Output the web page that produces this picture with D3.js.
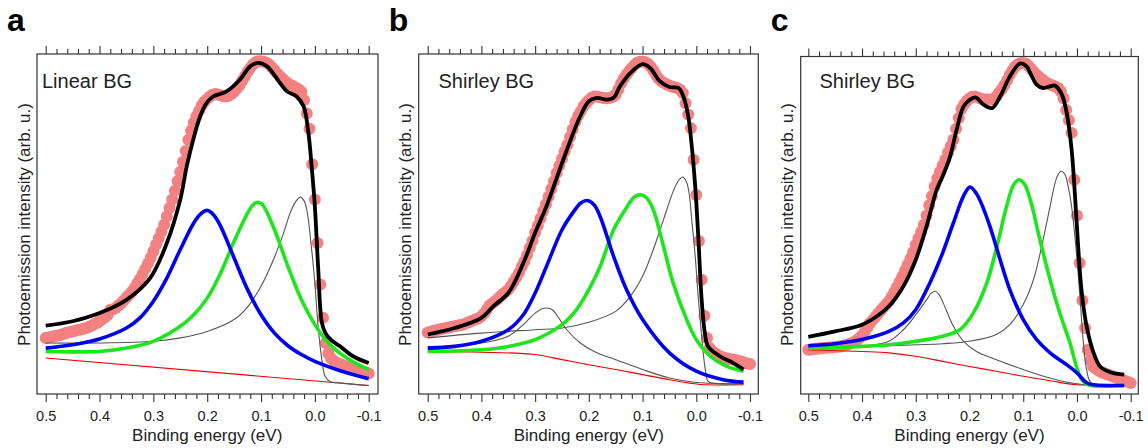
<!DOCTYPE html>
<html lang="en">
<head>
<meta charset="UTF-8">
<title>Photoemission fits</title>
<script src="https://d3js.org/d3.v7.min.js"></script>
<style>
  body { margin: 0; background: #ffffff; }
  svg { display: block; font-family: "Liberation Sans", Arial, Helvetica, sans-serif; }
</style>
</head>
<body>
<svg id="chart" width="1148" height="448"></svg>
<script>
// binding energies of the measured points (eV)
const energyGrid = [
  0.500,0.495,0.490,0.485,0.480,0.475,0.470,0.465,0.460,0.455,
  0.450,0.445,0.440,0.435,0.430,0.425,0.420,0.415,0.410,0.405,
  0.400,0.395,0.390,0.385,0.380,0.375,0.370,0.365,0.360,0.355,
  0.350,0.345,0.340,0.335,0.330,0.325,0.320,0.315,0.310,0.305,
  0.300,0.295,0.290,0.285,0.280,0.275,0.270,0.265,0.260,0.255,
  0.250,0.245,0.240,0.235,0.230,0.225,0.220,0.215,0.210,0.205,
  0.200,0.195,0.190,0.185,0.180,0.175,0.170,0.165,0.160,0.155,
  0.150,0.145,0.140,0.135,0.130,0.125,0.120,0.115,0.110,0.105,
  0.100,0.095,0.090,0.085,0.080,0.075,0.070,0.065,0.060,0.055,
  0.050,0.045,0.040,0.035,0.030,0.025,0.020,0.015,0.010,0.005,
  0.000,-0.005,-0.010,-0.015,-0.020,-0.025,-0.030,-0.035,-0.040,-0.045,
  -0.050,-0.055,-0.060,-0.065,-0.070,-0.075,-0.080,-0.085,-0.090,-0.095,
  -0.100
];

// measured intensity (arb. u.)
const aData = [
  16.5,16.6,16.8,17.0,17.1,17.3,17.5,17.8,18.0,18.2,
  18.4,18.6,18.8,19.0,19.2,19.4,19.7,20.1,20.5,20.9,
  21.4,22.0,22.6,23.2,24.8,24.9,25.3,26.0,26.7,27.5,
  28.4,29.2,30.1,31.2,32.5,33.8,35.3,36.8,38.4,40.1,
  42.0,43.9,45.8,47.7,49.8,52.2,54.7,57.2,59.8,62.6,
  65.4,68.3,71.5,74.8,77.4,79.8,81.7,83.3,84.9,86.0,
  86.8,87.5,88.0,88.2,88.1,87.9,87.6,87.5,87.7,88.2,
  88.9,89.8,90.8,92.1,93.4,94.8,95.9,96.9,97.6,97.9,
  97.9,97.7,97.4,96.9,96.1,95.2,94.3,93.5,92.7,92.0,
  91.4,90.9,90.5,90.1,89.6,88.9,86.5,82.5,78.0,67.6,
  57.2,44.4,32.2,22.4,15.0,12.0,10.5,9.8,9.3,8.9,
  8.6,8.3,8.0,7.7,7.4,7.2,6.9,6.7,6.5,6.3,
  6.0
];
const bData = [
  18.1,18.3,18.5,18.7,18.9,19.1,19.3,19.4,19.6,19.8,
  19.9,20.1,20.3,20.4,20.7,21.0,21.3,21.7,22.0,22.3,
  22.9,23.7,24.8,26.0,26.6,27.2,27.9,28.7,29.4,30.0,
  30.7,31.8,33.0,34.3,35.7,37.4,39.0,40.9,43.0,45.1,
  47.4,49.5,51.7,53.8,55.8,58.0,60.3,62.6,65.0,67.1,
  69.2,71.3,73.3,75.6,77.9,80.1,81.8,83.2,84.6,85.6,
  86.4,87.1,87.5,87.5,87.3,87.1,87.0,87.0,87.1,87.4,
  88.1,89.6,91.4,92.8,93.9,95.0,95.9,96.8,97.4,97.7,
  97.8,97.6,97.1,96.3,95.2,93.8,92.7,92.0,91.5,91.0,
  90.7,90.4,90.2,89.9,89.5,88.5,85.5,82.2,78.2,68.9,
  58.5,45.0,33.6,23.0,16.5,13.5,12.5,12.0,11.5,11.0,
  10.7,10.5,10.3,10.2,10.1,9.9,9.7,9.5,9.2,9.0,
  8.8
];
const cData = [
  13.0,13.1,13.2,13.3,13.4,13.5,13.6,13.6,13.7,13.7,
  13.8,13.9,14.0,14.2,14.4,14.6,14.9,15.3,15.8,16.5,
  17.2,18.3,19.6,20.9,21.8,22.7,23.7,24.6,25.5,26.4,
  27.3,28.6,30.0,31.5,33.0,34.6,36.3,38.0,39.8,41.8,
  43.9,45.8,47.7,49.8,52.5,55.5,58.2,61.0,63.4,65.4,
  67.2,69.0,71.0,72.9,74.8,78.0,81.2,83.8,85.2,86.2,
  86.9,87.4,87.5,87.2,86.9,86.7,86.6,86.6,86.6,86.8,
  87.5,88.6,89.6,90.9,92.3,93.9,95.2,96.3,97.0,97.3,
  97.3,97.1,96.5,95.6,94.7,93.9,93.2,92.5,91.9,91.4,
  91.0,90.7,90.4,90.0,89.0,87.0,83.5,80.5,76.8,63.0,
  52.5,38.5,27.5,19.4,13.0,10.0,8.1,7.4,6.9,6.5,
  6.2,5.9,5.6,5.3,5.0,4.7,4.4,4.1,3.8,3.5,
  3.2
];

// fitted curves [energy, intensity]
const aBlack = [[0.5,20.1],[0.45,21.4],[0.4,23.8],[0.35,27.7],[0.306,34.1],[0.275,44.4],[0.25,57.2],[0.238,67.0],[0.226,74.8],[0.213,81.7],[0.201,85.6],[0.189,87.5],[0.164,89.0],[0.139,92.5],[0.12,96.4],[0.105,97.4],[0.089,96.4],[0.065,91.5],[0.052,89.0],[0.034,87.5],[0.021,84.6],[0.012,76.8],[0.006,67.0],[0.0,55.2],[-0.006,37.5],[-0.013,21.0],[-0.02,17.8],[-0.03,15.9],[-0.047,14.0],[-0.071,11.1],[-0.1,9.1]];
const aBlue = [[0.5,13.5],[0.45,14.5],[0.4,16.2],[0.35,19.4],[0.325,22.4],[0.3,27.3],[0.275,34.1],[0.25,42.5],[0.225,50.3],[0.2125,52.9],[0.2,54.0],[0.1875,52.6],[0.175,49.3],[0.15,40.0],[0.125,30.7],[0.1,23.3],[0.075,17.9],[0.05,14.2],[0.025,11.6],[0.0,9.6],[-0.05,6.7],[-0.1,4.5]];
const aGreen = [[0.5,12.5],[0.45,12.4],[0.4,12.5],[0.35,13.5],[0.3,15.5],[0.25,19.9],[0.225,23.3],[0.2,28.2],[0.175,35.6],[0.15,44.9],[0.125,53.2],[0.115,55.6],[0.107,56.4],[0.098,55.8],[0.075,48.3],[0.05,37.5],[0.025,27.7],[0.0,20.4],[-0.025,15.0],[-0.05,11.6],[-0.075,9.1],[-0.1,7.2]];
const aGray = [[0.5,15.0],[0.4,15.0],[0.3,15.5],[0.25,16.5],[0.2,18.4],[0.15,21.9],[0.124,25.8],[0.1,31.7],[0.077,39.5],[0.058,47.4],[0.046,53.2],[0.036,56.5],[0.027,57.9],[0.02,56.8],[0.015,54.2],[0.006,42.5],[0.0,32.6],[-0.006,19.9],[-0.013,10.1],[-0.019,5.2],[-0.028,3.7],[-0.05,3.2],[-0.1,2.5]];
const aRed = [[0.5,10.6],[-0.1,2.5]];

const bBlack = [[0.5,17.5],[0.45,19.4],[0.4,22.4],[0.378,25.8],[0.35,29.7],[0.322,38.5],[0.3,47.4],[0.279,55.2],[0.25,67.9],[0.229,76.8],[0.216,81.7],[0.2,86.1],[0.185,87.1],[0.167,86.6],[0.154,87.1],[0.142,90.5],[0.123,94.4],[0.1,97.0],[0.086,95.9],[0.068,92.0],[0.05,90.3],[0.033,90.0],[0.024,87.5],[0.015,81.7],[0.009,73.8],[0.002,61.1],[-0.004,45.4],[-0.01,27.7],[-0.016,17.9],[-0.022,14.0],[-0.044,11.1],[-0.069,9.1],[-0.088,7.2]];
const bBlue = [[0.5,13.5],[0.45,14.0],[0.4,15.5],[0.35,18.9],[0.322,23.3],[0.3,29.7],[0.279,37.5],[0.25,48.3],[0.229,53.5],[0.215,56.2],[0.203,56.9],[0.19,55.6],[0.179,52.2],[0.154,40.5],[0.13,30.7],[0.1,21.9],[0.05,12.1],[0.0,6.7],[-0.05,4.2],[-0.088,3.5]];
const bGreen = [[0.5,12.5],[0.4,13.0],[0.35,14.0],[0.3,16.0],[0.25,20.4],[0.223,24.8],[0.2,30.7],[0.179,37.5],[0.154,48.3],[0.13,54.8],[0.115,58.0],[0.104,58.6],[0.093,57.8],[0.08,54.2],[0.061,43.4],[0.043,32.6],[0.018,21.9],[0.0,16.0],[-0.026,11.1],[-0.057,8.1],[-0.088,6.7]];
const bGray1 = [[0.5,16.5],[0.4,17.9],[0.3,18.9],[0.25,19.4],[0.2,21.1],[0.15,24.3],[0.123,28.7],[0.1,34.6],[0.08,42.5],[0.061,51.3],[0.043,59.6],[0.033,62.8],[0.025,63.8],[0.018,62.3],[0.013,58.6],[0.009,52.3],[0.002,40.5],[-0.004,27.7],[-0.01,17.0],[-0.016,8.1],[-0.022,3.7],[-0.03,3.2],[-0.088,3.0]];
const bGray2 = [[0.5,13.8],[0.4,15.0],[0.35,17.0],[0.322,20.4],[0.3,23.8],[0.288,25.0],[0.278,25.3],[0.268,24.8],[0.26,23.3],[0.241,18.9],[0.216,15.0],[0.185,12.1],[0.15,10.1],[0.1,7.2],[0.05,4.7],[0.0,3.4],[-0.088,3.0]];
const bRed = [[0.5,12.5],[0.4,12.3],[0.3,11.6],[0.25,10.1],[0.2,8.6],[0.15,7.2],[0.1,5.7],[0.05,4.2],[0.012,3.2],[-0.007,2.8],[-0.088,2.7]];

const cBlack = [[0.5,16.8],[0.45,18.4],[0.4,20.4],[0.373,22.8],[0.35,25.8],[0.323,31.7],[0.3,39.5],[0.28,49.3],[0.261,60.1],[0.25,64.0],[0.236,69.9],[0.224,77.7],[0.211,84.6],[0.199,86.6],[0.188,87.2],[0.174,85.1],[0.158,84.1],[0.143,87.5],[0.125,93.4],[0.106,97.2],[0.094,96.4],[0.087,94.4],[0.075,91.0],[0.063,90.0],[0.05,90.5],[0.041,90.7],[0.028,88.0],[0.019,82.6],[0.01,71.9],[0.004,59.1],[-0.003,41.5],[-0.009,29.7],[-0.018,19.9],[-0.031,12.1],[-0.043,8.1],[-0.062,6.4],[-0.088,5.7]];
const cBlue = [[0.5,14.2],[0.45,14.8],[0.4,16.0],[0.35,18.4],[0.323,20.9],[0.3,24.8],[0.274,32.6],[0.25,41.5],[0.23,50.3],[0.211,58.3],[0.199,60.9],[0.187,58.9],[0.18,56.8],[0.162,49.3],[0.143,39.5],[0.125,30.7],[0.1,21.9],[0.075,16.0],[0.05,12.1],[0.019,8.6],[0.0,6.2],[-0.015,3.7],[-0.024,2.9],[-0.088,2.5]];
const cGreen = [[0.5,13.5],[0.4,14.0],[0.35,14.5],[0.3,15.5],[0.25,17.0],[0.218,18.9],[0.193,23.8],[0.168,32.6],[0.149,43.4],[0.131,55.2],[0.118,61.5],[0.108,63.0],[0.098,61.8],[0.087,57.2],[0.069,45.4],[0.05,33.6],[0.032,23.8],[0.013,15.0],[0.001,8.1],[-0.009,4.2],[-0.021,2.7],[-0.088,2.5]];
const cGray1 = [[0.5,14.0],[0.4,14.0],[0.3,14.5],[0.25,14.8],[0.2,15.5],[0.15,17.5],[0.125,20.4],[0.1,26.3],[0.081,33.6],[0.063,45.4],[0.05,55.2],[0.038,63.5],[0.03,65.5],[0.022,64.5],[0.017,61.5],[0.01,55.2],[0.001,41.5],[-0.006,27.7],[-0.012,15.0],[-0.018,7.2],[-0.027,3.2],[-0.088,2.5]];
const cGray2 = [[0.5,13.5],[0.4,14.0],[0.35,15.5],[0.323,18.9],[0.3,23.3],[0.28,27.7],[0.272,29.5],[0.264,30.2],[0.257,29.3],[0.249,26.8],[0.23,19.9],[0.211,15.5],[0.187,12.5],[0.15,10.1],[0.1,7.2],[0.05,4.7],[0.0,3.0],[-0.088,2.5]];
const cRed = [[0.5,13.0],[0.4,12.5],[0.35,12.1],[0.3,11.1],[0.25,9.6],[0.2,8.1],[0.15,6.7],[0.1,5.2],[0.05,3.9],[0.0,2.7],[-0.088,2.5]];

const tickValues = [0.5, 0.4, 0.3, 0.2, 0.1, 0.0, -0.1];
const tickLabels = ["0.5", "0.4", "0.3", "0.2", "0.1", "0.0", "-0.1"];

const COLORS = { data: "#f38181", black: "#000000", blue: "#0000f0", green: "#1de61d", gray: "#555555", red: "#ee0000" };

// layout of the three panels
const panels = [
  { label: "a", note: "Linear BG", left: 37, right: 378, top: 54, x0: 45.7, x1: 368.7, noteX: 42,
    data: aData, red: aRed, grays: [aGray], green: aGreen, blue: aBlue, black: aBlack },
  { label: "b", note: "Shirley BG", left: 418.7, right: 758.3, top: 54, x0: 427.7, x1: 750, noteX: 438.5,
    data: bData, red: bRed, grays: [bGray1, bGray2], green: bGreen, blue: bBlue, black: bBlack },
  { label: "c", note: "Shirley BG", left: 800.7, right: 1138.3, top: 56.5, x0: 808.3, x1: 1130.7, noteX: 819.5,
    data: cData, red: cRed, grays: [cGray1, cGray2], green: cGreen, blue: cBlue, black: cBlack }
];

const bottom = 394;
const svg = d3.select("#chart");

const y = d3.scaleLinear().domain([0, 100]).range([bottom, 54]);
const minorTicks = d3.range(-0.1, 0.5001, 0.02).map(v => +v.toFixed(2))
  .filter(v => !tickValues.some(t => Math.abs(t - v) < 1e-6));

panels.forEach(p => {
  const x = d3.scaleLinear().domain([0.5, -0.1]).range([p.x0, p.x1]);
  const g = svg.append("g");

  const line = d3.line()
    .x(d => x(d[0]))
    .y(d => y(d[1]))
    .curve(d3.curveCatmullRom.alpha(0.5));

  // data points
  g.append("g").selectAll("circle")
    .data(energyGrid.map((e, i) => [e, p.data[i]]))
    .enter().append("circle")
    .attr("cx", d => x(d[0]))
    .attr("cy", d => y(d[1]))
    .attr("r", 6)
    .attr("fill", COLORS.data);

  // background and components
  g.append("path").datum(p.red).attr("d", line)
    .attr("fill", "none").attr("stroke", COLORS.red).attr("stroke-width", 1.1);
  p.grays.forEach(gr => {
    g.append("path").datum(gr).attr("d", line)
      .attr("fill", "none").attr("stroke", COLORS.gray).attr("stroke-width", 1.1);
  });
  g.append("path").datum(p.green).attr("d", line)
    .attr("fill", "none").attr("stroke", COLORS.green).attr("stroke-width", 3.6);
  g.append("path").datum(p.blue).attr("d", line)
    .attr("fill", "none").attr("stroke", COLORS.blue).attr("stroke-width", 3.6);
  g.append("path").datum(p.black).attr("d", line)
    .attr("fill", "none").attr("stroke", COLORS.black).attr("stroke-width", 3.8)
    .attr("stroke-linejoin", "round");

  // frame
  g.append("rect")
    .attr("x", p.left).attr("y", p.top)
    .attr("width", p.right - p.left).attr("height", bottom - p.top)
    .attr("fill", "none").attr("stroke", "#333").attr("stroke-width", 1.2);

  // bottom axis (major + minor)
  const axB = g.append("g").attr("transform", `translate(0,${bottom})`)
    .call(d3.axisBottom(x).tickValues(tickValues).tickSize(8).tickPadding(8.5)
      .tickFormat((d, i) => tickLabels[i]));
  g.append("g").attr("transform", `translate(0,${bottom})`)
    .call(d3.axisBottom(x).tickValues(minorTicks).tickSize(5).tickFormat(""));
  // top axis
  g.append("g").attr("transform", `translate(0,${p.top})`)
    .call(d3.axisTop(x).tickValues(tickValues).tickSize(8).tickFormat(""));
  g.append("g").attr("transform", `translate(0,${p.top})`)
    .call(d3.axisTop(x).tickValues(minorTicks).tickSize(5).tickFormat(""));

  g.selectAll(".domain").remove();
  g.selectAll(".tick line").attr("stroke", "#333").attr("stroke-width", 1.1);
  axB.selectAll("text").attr("font-size", 14.5).attr("fill", "#222")
    .attr("font-family", "'Liberation Sans', Arial, sans-serif");

  // titles
  g.append("text")
    .attr("x", (p.x0 + p.x1) / 2).attr("y", 441)
    .attr("text-anchor", "middle").attr("font-size", 17).attr("fill", "#222")
    .text("Binding energy (eV)");
  g.append("text")
    .attr("transform", `translate(${p.left - 7.5},224.5) rotate(-90)`)
    .attr("text-anchor", "middle").attr("font-size", 17).attr("fill", "#222")
    .text("Photoemission intensity (arb. u.)");
  g.append("text")
    .attr("x", p.noteX).attr("y", 88)
    .attr("font-size", 20).attr("fill", "#222")
    .text(p.note);
  g.append("text")
    .attr("x", p.left - 30).attr("y", 31)
    .attr("font-size", 32).attr("font-weight", "bold").attr("fill", "#000")
    .text(p.label);
});
</script>
</body>
</html>
